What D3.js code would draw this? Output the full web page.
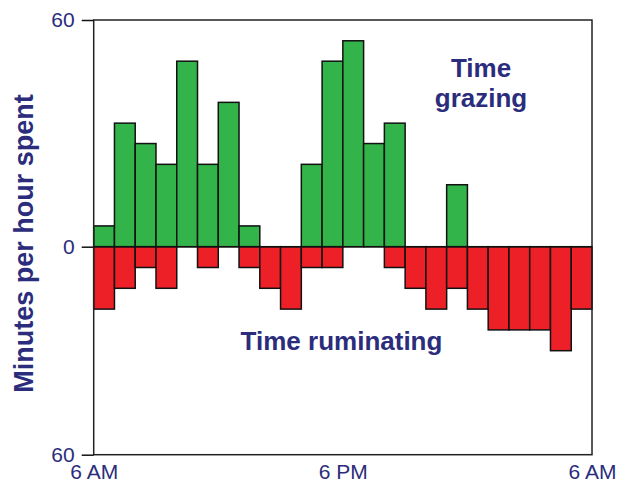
<!DOCTYPE html>
<html>
<head>
<meta charset="utf-8">
<script src="https://cdn.jsdelivr.net/npm/d3@7"></script>
<style>
  html, body { margin: 0; padding: 0; background: #fff; }
  svg { display: block; }
  text { font-family: "Liberation Sans", Arial, Helvetica, sans-serif; }
</style>
</head>
<body>
<svg id="chart" width="618" height="487"></svg>
<script>
// Hour slots starting at 6 AM (24 one-hour bins)
const hours = ["6 AM","7 AM","8 AM","9 AM","10 AM","11 AM","12 PM","1 PM","2 PM","3 PM","4 PM","5 PM",
               "6 PM","7 PM","8 PM","9 PM","10 PM","11 PM","12 AM","1 AM","2 AM","3 AM","4 AM","5 AM"];
// Minutes per hour spent grazing (drawn above zero)
const grazing = [5.5, 32.7, 27.3, 21.8, 49.1, 21.8, 38.2, 5.5, 0, 0, 21.8, 49.1,
                 54.5, 27.3, 32.7, 0, 0, 16.4, 0, 0, 0, 0, 0, 0];
// Minutes per hour spent ruminating (drawn below zero)
const ruminating = [18, 12, 6, 12, 0, 6, 0, 6, 12, 18, 6, 6,
                    0, 0, 6, 12, 18, 12, 18, 24, 24, 24, 30, 18];
// Axis tick values / labels
const yTicks = [60, 0, -60];
const xTickPos = [0, 12, 24];
const xTickLabels = ["6 AM", "6 PM", "6 AM"];

(function () {
const svg = d3.select("#chart");
const pL = 93.7, pR = 592, pT = 20, pZ = 246.7, pB = 454.7;
const navy = "#2b2d7c";

const x = d3.scaleBand().domain(hours).range([pL, pR]).padding(0);
const xLin = d3.scaleLinear().domain([0, 24]).range([pL, pR]);
const y = d3.scaleLinear().domain([-60, 0, 60]).range([pB, pZ, pT]);

// Grazing bars
svg.append("g").selectAll("rect").data(grazing.map((v, i) => ({h: hours[i], v})).filter(d => d.v > 0))
  .join("rect")
  .attr("x", d => x(d.h)).attr("width", x.bandwidth())
  .attr("y", d => y(d.v)).attr("height", d => y(0) - y(d.v))
  .attr("fill", "#33b44a").attr("stroke", "#111").attr("stroke-width", 1.5);

// Ruminating bars
svg.append("g").selectAll("rect").data(ruminating.map((v, i) => ({h: hours[i], v})).filter(d => d.v > 0))
  .join("rect")
  .attr("x", d => x(d.h)).attr("width", x.bandwidth())
  .attr("y", y(0)).attr("height", d => y(-d.v) - y(0))
  .attr("fill", "#ee2027").attr("stroke", "#111").attr("stroke-width", 1.5);

// Frame
svg.append("rect").attr("x", pL).attr("y", pT).attr("width", pR - pL).attr("height", pB - pT)
  .attr("fill", "none").attr("stroke", "#222").attr("stroke-width", 1.5);

// Zero line
svg.append("line").attr("x1", pL).attr("x2", pR).attr("y1", y(0)).attr("y2", y(0))
  .attr("stroke", "#111").attr("stroke-width", 1.5);

// Y axis
const yAxis = d3.axisLeft(y).tickValues(yTicks).tickSize(12).tickPadding(7)
  .tickFormat(d => Math.abs(d));
const gy = svg.append("g").attr("transform", `translate(${pL},0)`).call(yAxis);
gy.select(".domain").remove();
gy.selectAll(".tick line").attr("stroke", "#111").attr("stroke-width", 1.5);
gy.selectAll(".tick text").attr("fill", navy).style("font-size", "21px")
  .style("font-family", "'Liberation Sans', Arial, sans-serif");

// X axis labels
const xAxis = d3.axisBottom(xLin).tickValues(xTickPos).tickSize(0).tickPadding(9)
  .tickFormat((d, i) => xTickLabels[i]);
const gx = svg.append("g").attr("transform", `translate(0,${pB})`).call(xAxis);
gx.select(".domain").remove();
gx.selectAll(".tick text").attr("fill", navy).style("font-size", "21px")
  .style("font-family", "'Liberation Sans', Arial, sans-serif");

// Y axis title
svg.append("text")
  .attr("transform", `translate(33,243.5) rotate(-90)`)
  .attr("text-anchor", "middle")
  .attr("fill", navy).style("font-size", "27px").style("font-weight", "bold")
  .text("Minutes per hour spent");

// Annotations
const gl = svg.append("text").attr("text-anchor", "middle").attr("fill", navy)
  .style("font-size", "26px").style("font-weight", "bold");
gl.append("tspan").attr("x", 481).attr("y", 76.5).text("Time");
gl.append("tspan").attr("x", 481).attr("y", 106.5).text("grazing");

svg.append("text").attr("x", 341.5).attr("y", 350).attr("text-anchor", "middle")
  .attr("fill", navy).style("font-size", "26px").style("font-weight", "bold")
  .text("Time ruminating");
})();
</script>
</body>
</html>
